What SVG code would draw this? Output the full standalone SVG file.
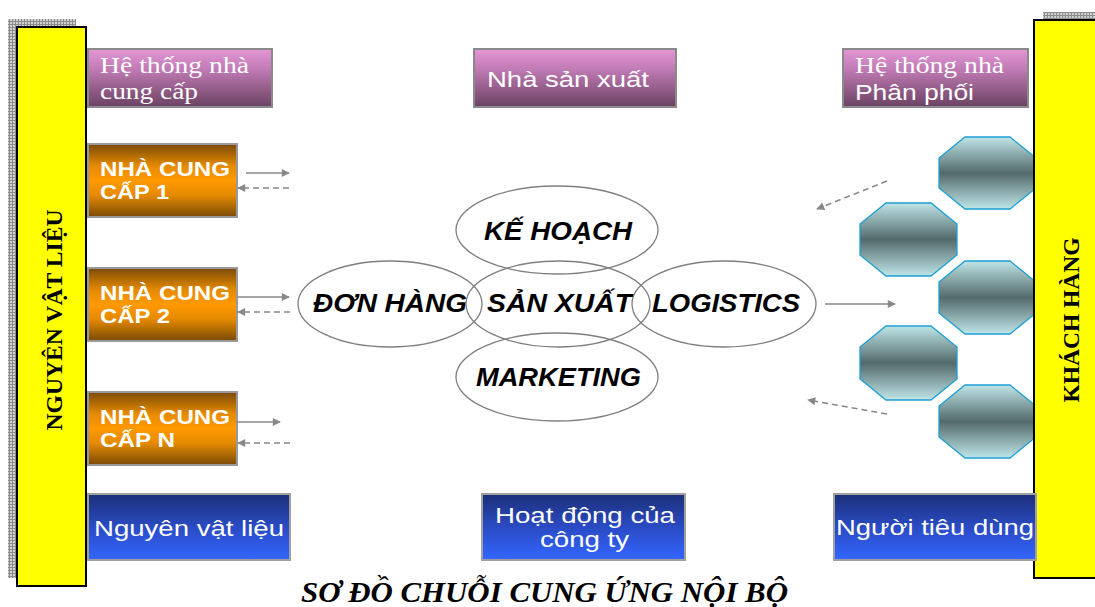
<svg xmlns="http://www.w3.org/2000/svg" width="1095" height="607" viewBox="0 0 1095 607">
  <style>
    .hdr { stroke: #8a8a8a; stroke-width: 2; fill: url(#gPink); }
    .sup { stroke: #9a9a9a; stroke-width: 2; fill: url(#gOrange); }
    .blu { stroke: #a0a0a0; stroke-width: 2; fill: url(#gBlue); }
    .oct { stroke: #1e9fd2; stroke-width: 1.3; fill: url(#gTeal); }
    .bar { fill: #ffff00; stroke: #000; stroke-width: 2; }
    .ell { fill: none; stroke: #7f7f7f; stroke-width: 1.3; }
    .serif { font-family: "Liberation Serif", "Times New Roman", serif; fill: #fff; font-size: 24px; }
    .sans { font-family: "Liberation Sans", Arial, sans-serif; fill: #fff; font-size: 22px; }
    .supt { font-family: "Liberation Sans", Arial, sans-serif; fill: #fff; font-size: 20px; font-weight: bold; }
    .ellt { font-family: "Liberation Sans", Arial, sans-serif; fill: #000; font-size: 25px; font-weight: bold; font-style: italic; }
    .vert { font-family: "Liberation Serif", "Times New Roman", serif; fill: #000; font-size: 24px; font-weight: bold; }
    .title { font-family: "Liberation Serif", "Times New Roman", serif; fill: #000; font-size: 29px; font-weight: bold; font-style: italic; }
    .conn { stroke: #888; stroke-width: 1.6; fill: none; marker-end: url(#head); }
    .dash { stroke-dasharray: 6 4; }
  </style>
  <defs>
    <linearGradient id="gPink" x1="0" y1="0" x2="0" y2="1">
      <stop offset="0" stop-color="#e497d5"/>
      <stop offset="0.35" stop-color="#c07ab4"/>
      <stop offset="1" stop-color="#6b4263"/>
    </linearGradient>
    <linearGradient id="gOrange" x1="0" y1="0" x2="0" y2="1">
      <stop offset="0" stop-color="#7a4a08"/>
      <stop offset="0.3" stop-color="#e58a00"/>
      <stop offset="0.5" stop-color="#ff9900"/>
      <stop offset="0.7" stop-color="#e58a00"/>
      <stop offset="1" stop-color="#7a4a08"/>
    </linearGradient>
    <linearGradient id="gBlue" x1="0" y1="0" x2="0" y2="1">
      <stop offset="0" stop-color="#1c2f78"/>
      <stop offset="0.5" stop-color="#2a4bc4"/>
      <stop offset="1" stop-color="#3366ff"/>
    </linearGradient>
    <linearGradient id="gTeal" x1="0" y1="0" x2="0" y2="1">
      <stop offset="0" stop-color="#bfe5e7"/>
      <stop offset="0.5" stop-color="#536a6c"/>
      <stop offset="1" stop-color="#bfe5e7"/>
    </linearGradient>
    <pattern id="shade" width="3" height="3" patternUnits="userSpaceOnUse">
      <rect width="3" height="3" fill="#d0d0d0"/>
      <path d="M0 0.5H3M0.5 0V3" stroke="#8c8c8c" stroke-width="1"/>
    </pattern>
    <marker id="head" viewBox="0 0 10 10" refX="9" refY="5" markerWidth="9" markerHeight="8" markerUnits="userSpaceOnUse" orient="auto">
      <path d="M0 0L10 5L0 10z" fill="#888"/>
    </marker>
  </defs>

  <!-- left side bar: raw materials -->
  <g id="bar-left">
    <rect x="8" y="19" width="68" height="559" fill="url(#shade)"/>
    <rect class="bar" x="17" y="27" width="69" height="559"/>
    <text class="vert" transform="translate(62,320) rotate(-90)" text-anchor="middle" textLength="221" lengthAdjust="spacingAndGlyphs">NGUYÊN VẬT LIỆU</text>
  </g>

  <!-- header boxes -->
  <g id="hdr-supply">
    <rect class="hdr" x="88" y="49" width="184" height="58"/>
    <text class="serif" x="100" y="73" textLength="149" lengthAdjust="spacingAndGlyphs">Hệ thống nhà</text>
    <text class="serif" x="100" y="99" textLength="98" lengthAdjust="spacingAndGlyphs">cung cấp</text>
  </g>
  <g id="hdr-maker">
    <rect class="hdr" x="474" y="49" width="202" height="58"/>
    <text class="sans" x="487" y="87" textLength="162" lengthAdjust="spacingAndGlyphs">Nhà sản xuất</text>
  </g>
  <g id="hdr-distrib">
    <rect class="hdr" x="843" y="49" width="185" height="58"/>
    <text class="serif" x="855" y="73" textLength="149" lengthAdjust="spacingAndGlyphs">Hệ thống nhà</text>
    <text class="sans" x="855" y="100" textLength="119" lengthAdjust="spacingAndGlyphs">Phân phối</text>
  </g>

  <!-- suppliers -->
  <g id="sup-1">
    <rect class="sup" x="88" y="144" width="149" height="73"/>
    <text class="supt" x="100" y="176" textLength="130" lengthAdjust="spacingAndGlyphs">NHÀ CUNG</text>
    <text class="supt" x="100" y="199" textLength="69" lengthAdjust="spacingAndGlyphs">CẤP 1</text>
  </g>
  <g id="sup-2">
    <rect class="sup" x="88" y="268" width="149" height="73"/>
    <text class="supt" x="100" y="300" textLength="130" lengthAdjust="spacingAndGlyphs">NHÀ CUNG</text>
    <text class="supt" x="100" y="323" textLength="70" lengthAdjust="spacingAndGlyphs">CẤP 2</text>
  </g>
  <g id="sup-n">
    <rect class="sup" x="88" y="392" width="149" height="73"/>
    <text class="supt" x="100" y="424" textLength="130" lengthAdjust="spacingAndGlyphs">NHÀ CUNG</text>
    <text class="supt" x="100" y="447" textLength="75" lengthAdjust="spacingAndGlyphs">CẤP N</text>
  </g>

  <!-- company activities -->
  <g id="act-order">
    <ellipse class="ell" cx="390" cy="304" rx="92" ry="43"/>
    <text class="ellt" x="313" y="312" textLength="154" lengthAdjust="spacingAndGlyphs">ĐƠN HÀNG</text>
  </g>
  <g id="act-plan">
    <ellipse class="ell" cx="557" cy="230" rx="101" ry="44"/>
    <text class="ellt" x="484" y="240" textLength="148" lengthAdjust="spacingAndGlyphs">KẾ HOẠCH</text>
  </g>
  <g id="act-produce">
    <ellipse class="ell" cx="558" cy="304" rx="92" ry="43"/>
    <text class="ellt" x="487" y="312" textLength="145" lengthAdjust="spacingAndGlyphs">SẢN XUẤT</text>
  </g>
  <g id="act-logistics">
    <ellipse class="ell" cx="724" cy="304" rx="92" ry="43"/>
    <text class="ellt" x="652" y="312" textLength="148" lengthAdjust="spacingAndGlyphs">LOGISTICS</text>
  </g>
  <g id="act-marketing">
    <ellipse class="ell" cx="557" cy="377" rx="101" ry="44"/>
    <text class="ellt" x="476" y="386" textLength="165" lengthAdjust="spacingAndGlyphs">MARKETING</text>
  </g>

  <!-- distribution outlets -->
  <g id="dist-1"><polygon class="oct" points="965,137 1010,137 1036,158 1036,188 1010,209 965,209 939,188 939,158"/></g>
  <g id="dist-2"><polygon class="oct" points="886,203 931,203 957,224 957,255 931,276 886,276 860,255 860,224"/></g>
  <g id="dist-3"><polygon class="oct" points="965,261 1010,261 1036,282 1036,313 1010,334 965,334 939,313 939,282"/></g>
  <g id="dist-4"><polygon class="oct" points="886,326 931,326 957,347 957,379 931,400 886,400 860,379 860,347"/></g>
  <g id="dist-5"><polygon class="oct" points="965,385 1010,385 1036,406 1036,437 1010,458 965,458 939,437 939,406"/></g>

  <!-- right side bar: customers -->
  <g id="bar-right">
    <rect x="1043" y="12" width="60" height="10" fill="url(#shade)"/>
    <rect class="bar" x="1034" y="20" width="70" height="558"/>
    <text class="vert" transform="translate(1079,320) rotate(-90)" text-anchor="middle" textLength="165" lengthAdjust="spacingAndGlyphs">KHÁCH HÀNG</text>
  </g>

  <!-- footer boxes -->
  <g id="ftr-material">
    <rect class="blu" x="88" y="494" width="202" height="66"/>
    <text class="sans" x="94" y="536" textLength="190" lengthAdjust="spacingAndGlyphs">Nguyên vật liệu</text>
  </g>
  <g id="ftr-company">
    <rect class="blu" x="482" y="494" width="203" height="66"/>
    <text class="sans" x="495" y="523" textLength="180" lengthAdjust="spacingAndGlyphs">Hoạt động của</text>
    <text class="sans" x="540" y="547" textLength="89" lengthAdjust="spacingAndGlyphs">công ty</text>
  </g>
  <g id="ftr-consumer">
    <rect class="blu" x="834" y="494" width="202" height="66"/>
    <text class="sans" x="836" y="535" textLength="198" lengthAdjust="spacingAndGlyphs">Người tiêu dùng</text>
  </g>

  <!-- connectors -->
  <g id="connectors">
    <line class="conn" x1="246" y1="173" x2="289" y2="173"/>
    <line class="conn dash" x1="289" y1="188" x2="238" y2="188"/>
    <line class="conn" x1="237" y1="297" x2="289" y2="297"/>
    <line class="conn dash" x1="290" y1="312" x2="238" y2="312"/>
    <line class="conn" x1="237" y1="422" x2="280" y2="422"/>
    <line class="conn dash" x1="290" y1="443" x2="238" y2="443"/>
    <line class="conn" x1="825" y1="304" x2="895" y2="304"/>
    <line class="conn dash" x1="887" y1="181" x2="817" y2="209"/>
    <line class="conn dash" x1="887" y1="414" x2="808" y2="400"/>
  </g>

  <text class="title" x="301" y="602" textLength="487" lengthAdjust="spacingAndGlyphs">SƠ ĐỒ CHUỖI CUNG ỨNG NỘI BỘ</text>
</svg>
